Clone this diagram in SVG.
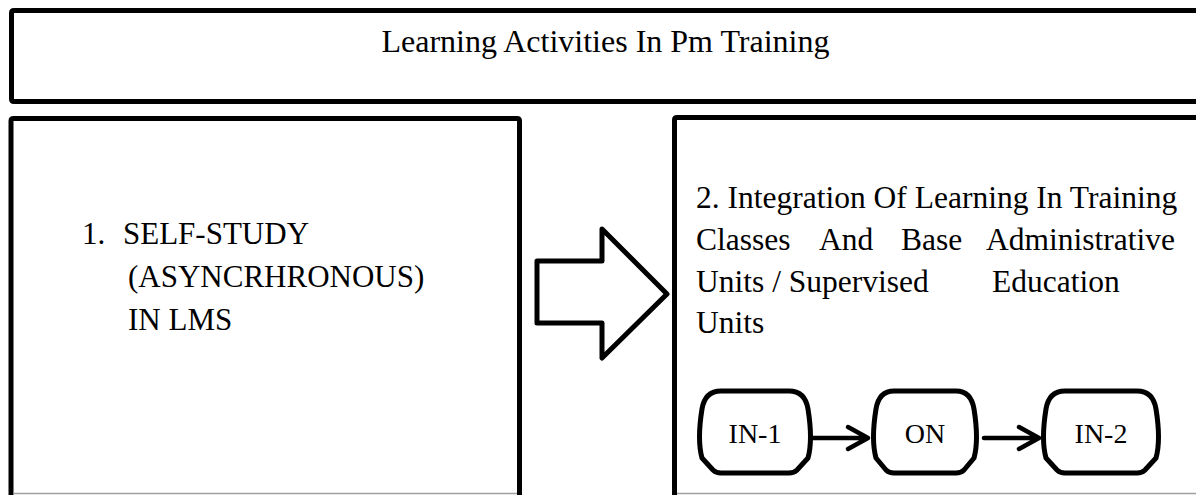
<svg xmlns="http://www.w3.org/2000/svg" width="1196" height="495" viewBox="0 0 1196 495">
  <style>
    .frame { fill: #ffffff; stroke: #000000; stroke-width: 5; stroke-linejoin: round; }
    .cut { stroke: #a0a0a0; stroke-width: 1.5; fill: none; }
    .t { font-family: "Liberation Serif", "Times New Roman", serif; fill: #000000; }
    .pill { fill: #ffffff; stroke: #000000; stroke-width: 5; stroke-linejoin: round; }
    .link { fill: none; stroke: #000000; stroke-width: 4.5; stroke-linecap: round; stroke-linejoin: round; }
    .block { fill: #ffffff; stroke: #000000; stroke-width: 5; stroke-linejoin: round; }
  </style>
  <rect width="1196" height="495" fill="#ffffff"/>

  <!-- title banner, running off the right edge -->
  <g id="title">
    <path class="frame" d="M1210,10.5 L14,10.5 Q11.5,10.5 11.5,13 L11.5,99 Q11.5,101.5 14,101.5 L1210,101.5"/>
    <text class="t" x="605.5" y="52" font-size="32" text-anchor="middle">Learning Activities In Pm Training</text>
  </g>

  <!-- activity 1: self-study -->
  <g id="self-study">
    <path class="frame" d="M11,500 L11,121 Q11,118.5 13.5,118.5 L517,118.5 Q519.5,118.5 519.5,121 L519.5,500"/>
    <line class="cut" x1="13.5" y1="493.5" x2="517" y2="493.5"/>
    <text class="t" font-size="31">
      <tspan x="82" y="244">1.</tspan><tspan x="123" y="244">SELF-STUDY</tspan>
      <tspan x="128" y="287">(ASYNCRHRONOUS)</tspan>
      <tspan x="128" y="330">IN LMS</tspan>
    </text>
  </g>

  <!-- activity 2: integration of learning -->
  <g id="integration">
    <path class="frame" d="M674.5,500 L674.5,120 Q674.5,117.5 677,117.5 L1210,117.5"/>
    <line class="cut" x1="677" y1="493.5" x2="1196" y2="493.5"/>
    <text class="t" font-size="31.5">
      <tspan x="696" y="208">2. Integration Of Learning In Training</tspan>
      <tspan x="696" y="250">Classes</tspan><tspan x="819" y="250">And</tspan><tspan x="901" y="250">Base</tspan><tspan x="986" y="250">Administrative</tspan>
      <tspan x="696" y="292">Units / Supervised</tspan><tspan x="992" y="292">Education</tspan>
      <tspan x="696" y="333">Units</tspan>
    </text>
  </g>

  <!-- stage nodes -->
  <g id="in-1">
    <path class="pill" d="M721,391 L789,391 Q805,391 808,409 Q813,440 808,458 L797,470 Q794,473 789,473 L721,473 Q716,473 713,470 L702,458 Q697,440 702,409 Q705,391 721,391 Z"/>
    <text class="t" x="755" y="443" font-size="28" text-anchor="middle">IN-1</text>
  </g>
  <g id="on">
    <path class="pill" d="M894,391 L956,391 Q971,391 974,409 Q979,440 974,458 L964,470 Q961,473 956,473 L894,473 Q889,473 886,470 L876,458 Q871,440 876,409 Q879,391 894,391 Z"/>
    <text class="t" x="925" y="443" font-size="28" text-anchor="middle">ON</text>
  </g>
  <g id="in-2">
    <path class="pill" d="M1065,391 L1137,391 Q1153,391 1156,409 Q1161,440 1156,458 L1145,470 Q1142,473 1137,473 L1065,473 Q1060,473 1057,470 L1046,458 Q1041,440 1046,409 Q1049,391 1065,391 Z"/>
    <text class="t" x="1101" y="443" font-size="28" text-anchor="middle">IN-2</text>
  </g>

  <g id="connectors">
    <!-- block arrow between the two activities -->
    <path class="block" d="M537,261 L602,261 L602,229 L667,294 L602,358 L602,323 L537,323 Z"/>
    <!-- IN-1 to ON -->
    <path class="link" d="M812,438 L868,438 M848,427 L868,438 L848,449"/>
    <!-- ON to IN-2 -->
    <path class="link" d="M984,438 L1039,438 M1019,427 L1039,438 L1019,449"/>
  </g>
</svg>
